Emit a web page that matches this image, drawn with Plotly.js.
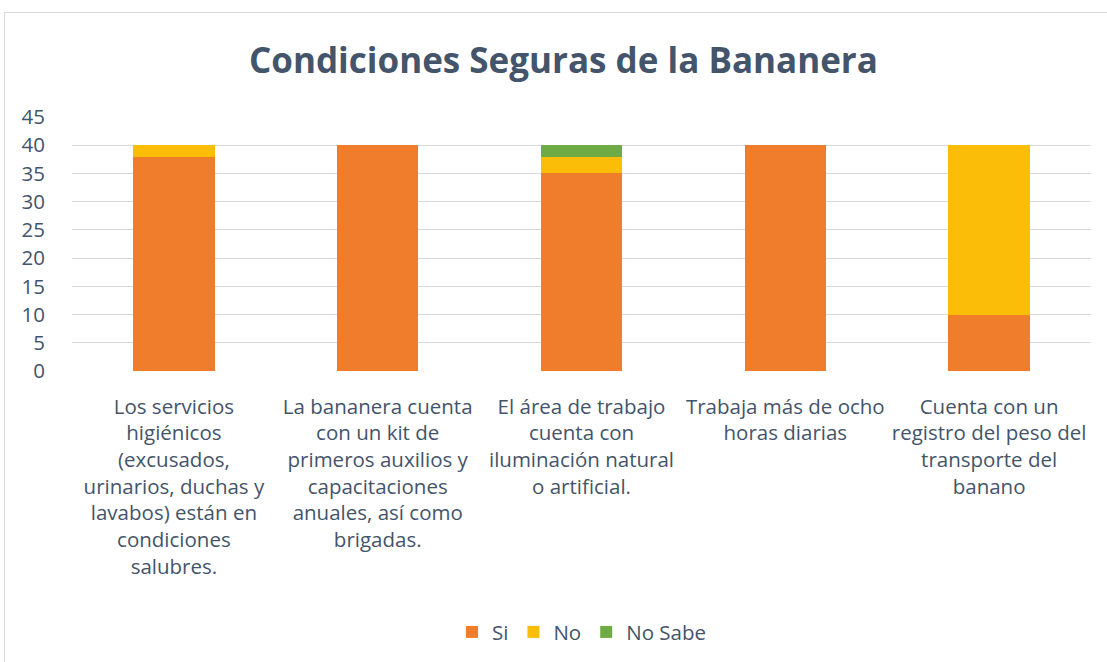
<!DOCTYPE html>
<html>
<head>
<meta charset="utf-8">
<script src="https://cdn.plot.ly/plotly-3.0.1.min.js"></script>
<style>
html,body{margin:0;padding:0;background:#fff;}
#chart{position:absolute;left:0;top:0;width:1107px;height:662px;}
#frame{position:absolute;left:4px;top:12px;width:1110px;height:660px;border:1px solid #d9d9d9;pointer-events:none;}
</style>
</head>
<body>
<div id="chart"></div>
<div id="frame"></div>
<script>
const categories = [
  "Los servicios<br>higiénicos<br>(excusados,<br>urinarios, duchas y<br>lavabos) están en<br>condiciones<br>salubres.",
  "La bananera cuenta<br>con un kit de<br>primeros auxilios y<br>capacitaciones<br>anuales, así como<br>brigadas.",
  "El área de trabajo<br>cuenta con<br>iluminación natural<br>o artificial.",
  "Trabaja más de ocho<br>horas diarias",
  "Cuenta con un<br>registro del peso del<br>transporte del<br>banano"
];
const catKeys = ["c1","c2","c3","c4","c5"];
const si = [38, 40, 35, 40, 10];
const no = [2, 0, 3, 0, 30];
const noSabe = [0, 0, 2, 0, 0];
const yTicks = [0,5,10,15,20,25,30,35,40,45];

const textColor = "#44546a";
const font = "'Open Sans', 'Noto Sans', sans-serif";

const traces = [
  {type:"bar", name:"Si", x:catKeys, y:si, marker:{color:"#f07d2b"}, hoverinfo:"y+name"},
  {type:"bar", name:"No", x:catKeys, y:no, marker:{color:"#fbbd08"}, hoverinfo:"y+name"},
  {type:"bar", name:"No Sabe", x:catKeys, y:noSabe, marker:{color:"#6fab45"}, hoverinfo:"y+name"}
];

const layout = {
  width:1107, height:662,
  barmode:"stack",
  bargap:0.6,
  margin:{l:72, r:16, t:117, b:290},
  paper_bgcolor:"rgba(0,0,0,0)",
  plot_bgcolor:"#fff",
  font:{family:font, color:textColor, size:19},
  title:{text:"<b>Condiciones Seguras de la Bananera</b>", x:0.509, xanchor:"center", y:0.908, yanchor:"middle",
         font:{family:font, size:35, color:textColor}},
  xaxis:{type:"category", tickvals:catKeys, ticktext:categories, tickangle:0,
         ticks:"outside", ticklen:17, tickcolor:"rgba(0,0,0,0)",
         showline:false, showgrid:false, zeroline:false,
         tickfont:{size:20.5, color:textColor, family:font}},
  yaxis:{range:[0,45], tickvals:yTicks, ticks:"outside", ticklen:22, tickcolor:"rgba(0,0,0,0)",
         showgrid:true, gridcolor:"#d9d9d9", gridwidth:1, zeroline:false, showline:false,
         tickfont:{size:20.5, color:textColor, family:font}},
  showlegend:true,
  legend:{orientation:"h", x:0.5, xanchor:"center", y:-1.02, yanchor:"middle",
          font:{size:20.5, color:textColor, family:font}, itemwidth:30, traceorder:"normal"}
};

Plotly.newPlot("chart", traces, layout, {displayModeBar:false, staticPlot:true});
</script>
</body>
</html>
